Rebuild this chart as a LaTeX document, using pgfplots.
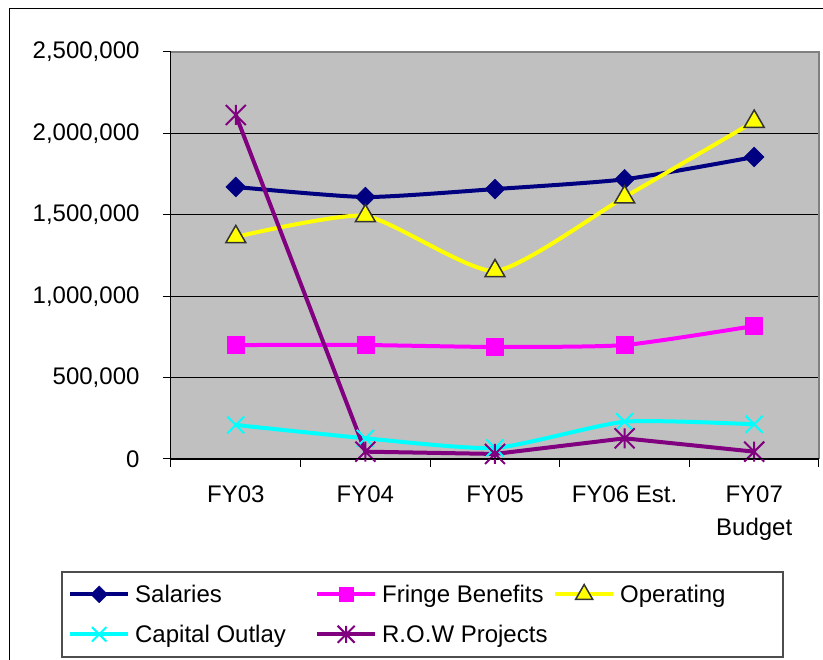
\documentclass[border=0pt]{standalone}
\usepackage{fontspec}
\setmainfont{Liberation Sans}
\usepackage{pgfplots}
\pgfplotsset{compat=1.18}
\definecolor{bgray}{HTML}{C0C0C0}
\definecolor{navyc}{HTML}{000080}
\definecolor{magc}{HTML}{FF00FF}
\definecolor{yelc}{HTML}{FFFF00}
\definecolor{cyac}{HTML}{00FFFF}
\definecolor{purc}{HTML}{800080}
\definecolor{edgec}{HTML}{333333}
\definecolor{framec}{HTML}{808080}
\pgfdeclareplotmark{xstar}{%
  \pgfpathmoveto{\pgfqpoint{0pt}{-\pgfplotmarksize}}\pgfpathlineto{\pgfqpoint{0pt}{\pgfplotmarksize}}%
  \pgfpathmoveto{\pgfqpoint{-\pgfplotmarksize}{-\pgfplotmarksize}}\pgfpathlineto{\pgfqpoint{\pgfplotmarksize}{\pgfplotmarksize}}%
  \pgfpathmoveto{\pgfqpoint{-\pgfplotmarksize}{\pgfplotmarksize}}\pgfpathlineto{\pgfqpoint{\pgfplotmarksize}{-\pgfplotmarksize}}%
  \pgfusepathqstroke}
\newcommand{\fs}{\fontsize{24}{33}\selectfont}
\begin{document}
\begin{tikzpicture}[x=1pt,y=1pt]
\useasboundingbox (0pt,0pt) rectangle (823pt,660pt);
\fill[white] (0pt,0pt) rectangle (823pt,660pt);
\draw[black, line width=1pt] (9pt,-5pt) -- (9pt,651pt) -- (830pt,651pt);
\begin{axis}[
  at={(171pt,201pt)}, anchor=south west,
  scale only axis, width=648pt, height=407pt,
  xmin=-0.5, xmax=4.5, ymin=0, ymax=2500000,
  axis line style={draw=none},
  axis background/.style={fill=bgray},
  xtick={0,1,2,3,4},
  xticklabels={FY03,FY04,FY05,FY06 Est.,{FY07\\Budget}},
  minor xtick={-0.5,0.5,1.5,2.5,3.5,4.5},
  every major x tick/.append style={draw=none},
  ytick={0,500000,1000000,1500000,2000000,2500000},
  xtick pos=bottom, ytick pos=left,
  tick align=outside, major tick length=8pt, minor tick length=8pt,
  tick style={black, line width=1pt},
  scaled y ticks=false,
  /pgf/number format/.cd, fixed, 1000 sep={,}, assume math mode=true, /pgfplots/.cd,
  ticklabel style={font=\fs},
  xticklabel style={align=center, yshift=-15pt},
  yticklabel style={xshift=-20pt},
  ymajorgrids, major grid style={black, line width=0.9pt},
  legend columns=3,
  legend style={draw=none, fill=none, font=\fs, inner sep=0pt, row sep=17pt,
    at={(-0.159,-0.304)}, anchor=north west, nodes={inner sep=2pt}},
  legend cell align=left,
  legend image code/.code={\draw[mark repeat=2,mark phase=2,#1,every mark/.append style={scale=0.85}] plot coordinates {(0pt,0pt) (29pt,0pt) (58pt,0pt)};},
  after end axis/.code={
    \draw[framec, line width=1.2pt] (rel axis cs:0,1) -- (rel axis cs:1,1) -- (rel axis cs:1,0);
    \draw[black, line width=1pt] (rel axis cs:0,1) -- (rel axis cs:0,0) -- (rel axis cs:1,0);
  },
]
\addplot[navyc, line width=4pt, smooth, tension=0.35, mark=square*, mark size=7pt, mark options={rotate=45, fill=navyc, draw=navyc, line width=0.5pt}]
  coordinates {(0,1671000) (1,1609000) (2,1658000) (3,1718000) (4,1855000)};
\addlegendentry{\makebox[181pt][l]{\hspace{3pt}Salaries}}
\addplot[magc, line width=4pt, smooth, tension=0.35, mark=square*, mark size=8.5pt, mark options={fill=magc, draw=magc, line width=0.5pt}]
  coordinates {(0,700000) (1,700000) (2,688000) (3,700000) (4,817000)};
\addlegendentry{\makebox[172pt][l]{\hspace{3pt}Fringe Benefits}}
\addplot[yelc, line width=4pt, smooth, tension=0.35, mark=triangle*, mark size=11.5pt, mark options={fill=yelc, draw=edgec, line width=1.5pt}]
  coordinates {(0,1364000) (1,1493000) (2,1155000) (3,1609000) (4,2073000)};
\addlegendentry{\hspace{3pt}Operating}
\addplot[cyac, line width=4pt, smooth, tension=0.35, mark=x, mark size=12pt, mark options={draw=cyac, line width=2pt}]
  coordinates {(0,209000) (1,127000) (2,68000) (3,229000) (4,213000)};
\addlegendentry{\makebox[181pt][l]{\hspace{3pt}Capital Outlay}}
\addplot[purc, line width=4pt, sharp plot, mark=xstar, mark size=10pt, mark options={draw=purc, line width=2pt}]
  coordinates {(0,2113000) (1,45000) (2,31000) (3,127000) (4,45000)};
\addlegendentry{\hspace{3pt}R.O.W Projects}
\end{axis}
\draw[framec!60!black, line width=1.2pt] (62pt,88pt) rectangle (783pt,3pt);
\end{tikzpicture}
\end{document}
